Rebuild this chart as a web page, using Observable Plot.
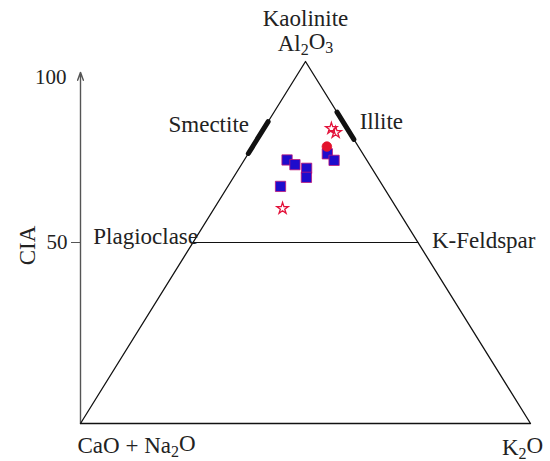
<!DOCTYPE html>
<html>
<head>
<meta charset="utf-8">
<script src="https://cdn.jsdelivr.net/npm/d3@7"></script>
<script src="https://cdn.jsdelivr.net/npm/@observablehq/plot@0.6"></script>
<style>
  html, body { margin: 0; padding: 0; background: #fff; }
  #chart { width: 550px; height: 461px; }
</style>
</head>
<body>
<div id="chart"></div>
<script>
// ---- data (A = Al2O3 = CIA, K = K2O, CN = CaO+Na2O; molar %) ----
const blueCIA  = [72.8, 71.5, 70.5, 68.0, 65.5, 74.5, 72.7];
const blueK2O  = [9.5, 11.9, 15.0, 16.2, 11.7, 17.6, 20.0];
const starCIA  = [81.5, 80.4, 59.4];
const starK2O  = [15.0, 16.5, 15.2];
const circleCIA = [76.5];
const circleK2O = [16.5];

const yTicks = [50];
const yTopLabel = "100";
const yAxisMax = 97;
const smectiteRange = [74.6, 83.4];   // CIA along CN–A edge
const illiteRange = [78.5, 86.0];     // CIA along A–K edge

// ternary (A, K) -> plane
const tx = (a, k) => k + a / 2;

const blue = blueCIA.map((a, i) => ({x: tx(a, blueK2O[i]), y: a}));
const stars = starCIA.map((a, i) => ({x: tx(a, starK2O[i]), y: a}));
const circles = circleCIA.map((a, i) => ({x: tx(a, circleK2O[i]), y: a}));

// vertices: CN (A=0,K=0), K (K=100), A (A=100)
const triangle = [[0, 0], [0, 100], [100, 0], [0, 0]].map(([a, k]) => ({x: tx(a, k), y: a}));
const feldsparLine = [{x: tx(50, 0), y: 50}, {x: tx(50, 50), y: 50}];
const smectite = smectiteRange.map(a => ({x: tx(a, 0), y: a}));
const illite = illiteRange.map(a => ({x: tx(a, 100 - a), y: a}));

const ink = "#222";
const font = "'Liberation Serif', 'Times New Roman', serif";
const fs = 23;

const plot = Plot.plot({
  width: 550,
  height: 461,
  marginLeft: 80,
  marginRight: 20,
  marginTop: 61,
  marginBottom: 38,
  style: {fontFamily: font, fontSize: fs + "px", color: ink, background: "#fff"},
  x: {domain: [0, 100], axis: null},
  y: {domain: [0, 100], axis: null},
  marks: [
    // y axis
    Plot.arrow([{x1: 0, y1: 0, x2: 0, y2: yAxisMax}], {x1: "x1", y1: "y1", x2: "x2", y2: "y2", stroke: "#555", strokeWidth: 1.4, headLength: 9, headAngle: 40}),
    Plot.axisY({ticks: yTicks, tickSize: 9, tickPadding: 4, label: null, fontSize: 21, stroke: "#555", color: ink}),
    Plot.text([yTopLabel], {x: 0, y: 100, text: d => d, textAnchor: "end", dx: -14, dy: 16, fontSize: 21, fill: ink}),
    Plot.text(["CIA"], {x: 0, y: 50, text: d => d, rotate: -90, dx: -53, dy: 3, fontSize: fs, fill: ink}),
    // triangle
    Plot.line(triangle, {x: "x", y: "y", stroke: "#111", strokeWidth: 1.3}),
    Plot.line(feldsparLine, {x: "x", y: "y", stroke: "#111", strokeWidth: 1.2}),
    Plot.line(smectite, {x: "x", y: "y", stroke: "#111", strokeWidth: 5, strokeLinecap: "round"}),
    Plot.line(illite, {x: "x", y: "y", stroke: "#111", strokeWidth: 5, strokeLinecap: "round"}),
    // labels
    Plot.text(["Kaolinite"], {x: tx(100, 0), y: 100, text: d => d, dy: -43, fontSize: fs, fill: ink}),
    Plot.text(["Al₂O₃"], {x: tx(100, 0), y: 100, text: d => d, dy: -18, fontSize: fs, fill: ink}),
    Plot.text(["Smectite"], {x: tx(82, 0), y: 82, text: d => d, textAnchor: "end", dx: -16, dy: -2, fontSize: fs, fill: ink}),
    Plot.text(["Illite"], {x: tx(83.5, 16.5), y: 83.5, text: d => d, textAnchor: "start", dx: 17, dy: 0, fontSize: fs, fill: ink}),
    Plot.text(["Plagioclase"], {x: tx(50, 0), y: 50, text: d => d, textAnchor: "end", dx: 5, dy: -6, fontSize: fs, fill: ink}),
    Plot.text(["K-Feldspar"], {x: tx(50, 50), y: 50, text: d => d, textAnchor: "start", dx: 14, dy: -2, fontSize: fs, fill: ink}),
    Plot.text(["CaO + Na₂O"], {x: 0, y: 0, text: d => d, textAnchor: "start", dx: -3, dy: 22, fontSize: fs, fill: ink}),
    Plot.text(["K₂O"], {x: 100, y: 0, text: d => d, dx: -8, dy: 24, fontSize: fs, fill: ink}),
    // samples
    Plot.dot(blue, {x: "x", y: "y", symbol: "square", r: 5.8, fill: "#1e0ccc", stroke: "#c01878", strokeWidth: 0.8}),
    Plot.dot(circles, {x: "x", y: "y", symbol: "circle", r: 4.8, fill: "#e3122c", stroke: "#e3122c", strokeWidth: 0.8}),
    Plot.dot(stars, {x: "x", y: "y", symbol: "star", r: 3.6, fill: "none", stroke: "#e3123a", strokeWidth: 1.3})
  ]
});

// render subscript digits as shifted tspans (text stays real text)
const subMap = {"₀":"0","₁":"1","₂":"2","₃":"3","₄":"4","₅":"5","₆":"6","₇":"7","₈":"8","₉":"9"};
const ns = "http://www.w3.org/2000/svg";
plot.querySelectorAll("text").forEach(t => {
  const targets = t.querySelectorAll("tspan").length ? Array.from(t.querySelectorAll("tspan")) : [t];
  targets.forEach(el => {
    const s = el.textContent;
    if (!/[₀-₉]/.test(s)) return;
    el.textContent = "";
    let cur = document.createElementNS(ns, "tspan");
    el.appendChild(cur);
    for (const ch of s) {
      if (subMap[ch]) {
        const sub = document.createElementNS(ns, "tspan");
        sub.textContent = subMap[ch];
        sub.setAttribute("font-size", Math.round(fs * 0.7));
        sub.setAttribute("dy", "0.25em");
        el.appendChild(sub);
        cur = document.createElementNS(ns, "tspan");
        cur.setAttribute("dy", "-0.25em");
        el.appendChild(cur);
      } else {
        cur.textContent += ch;
      }
    }
  });
});

document.getElementById("chart").appendChild(plot);
</script>
</body>
</html>
